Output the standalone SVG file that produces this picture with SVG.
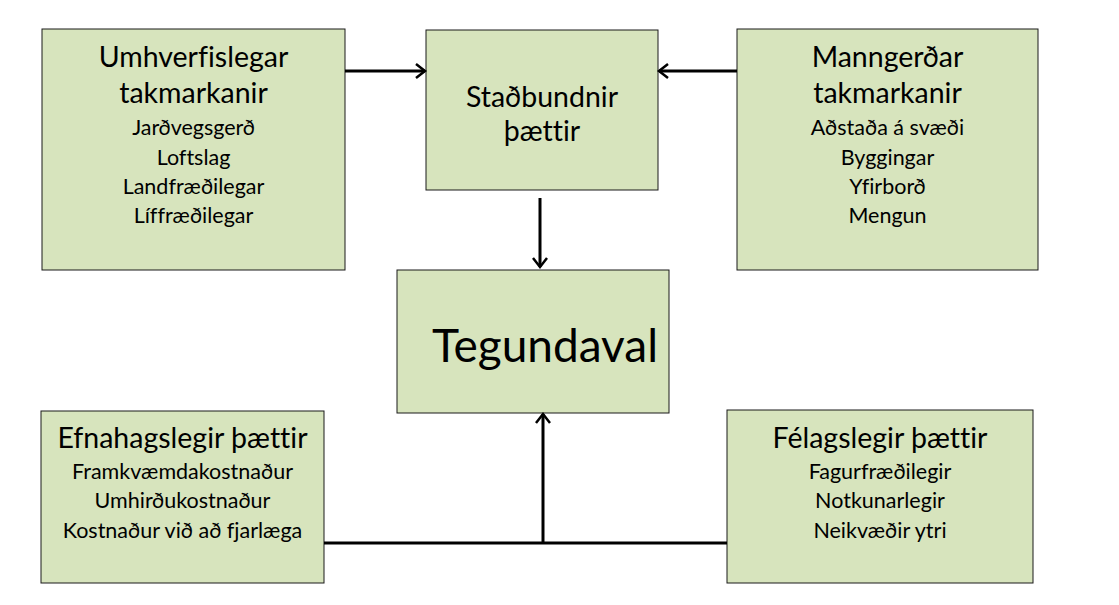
<svg xmlns="http://www.w3.org/2000/svg" width="1119" height="605" viewBox="0 0 1119 605">
<style>
.box{fill:#d7e4bd;stroke:#1a1a1a;stroke-width:1}
.t{font-family:Lato,"Open Sans","Liberation Sans",sans-serif;fill:#000;text-anchor:middle;font-variant-ligatures:none}
.h{font-size:28.5px}
.s{font-size:21.5px}
.big{font-size:46px}
.c{fill:none;stroke:#000;stroke-width:3}
</style>
<defs>
<marker id="a" markerUnits="userSpaceOnUse" markerWidth="20" markerHeight="20" refX="14" refY="10" orient="auto">
<path d="M5,3 L14,10 L5,17" fill="none" stroke="#000" stroke-width="2.5"/>
</marker>
</defs>
<rect width="1119" height="605" fill="#fff"/>
<g id="umhverfislegar">
<rect class="box" x="42" y="29" width="303" height="241"/>
<text class="t h" x="193.5" y="67">Umhverfislegar</text>
<text class="t h" x="193.5" y="103">takmarkanir</text>
<text class="t s" x="193.5" y="135">Jarðvegsgerð</text>
<text class="t s" x="193.5" y="165">Loftslag</text>
<text class="t s" x="193.5" y="194">Landfræðilegar</text>
<text class="t s" x="193.5" y="223">Líffræðilegar</text>
</g>
<g id="stadbundnir">
<rect class="box" x="426" y="30" width="232" height="160"/>
<text class="t h" x="542" y="107">Staðbundnir</text>
<text class="t h" x="542" y="141">þættir</text>
</g>
<g id="manngerdar">
<rect class="box" x="737" y="29" width="301" height="241"/>
<text class="t h" x="887.5" y="67">Manngerðar</text>
<text class="t h" x="887.5" y="103">takmarkanir</text>
<text class="t s" x="887.5" y="135">Aðstaða á svæði</text>
<text class="t s" x="887.5" y="165">Byggingar</text>
<text class="t s" x="887.5" y="194">Yfirborð</text>
<text class="t s" x="887.5" y="223">Mengun</text>
</g>
<g id="tegundaval">
<rect class="box" x="397" y="270" width="272" height="143"/>
<text class="t big" x="545" y="362">Tegundaval</text>
</g>
<g id="efnahagslegir">
<rect class="box" x="41" y="411" width="283" height="172"/>
<text class="t h" x="182.5" y="448">Efnahagslegir þættir</text>
<text class="t s" x="182.5" y="479">Framkvæmdakostnaður</text>
<text class="t s" x="182.5" y="508">Umhirðukostnaður</text>
<text class="t s" x="182.5" y="538">Kostnaður við að fjarlæga</text>
</g>
<g id="felagslegir">
<rect class="box" x="727" y="410" width="306" height="173"/>
<text class="t h" x="880" y="448">Félagslegir þættir</text>
<text class="t s" x="880" y="479">Fagurfræðilegir</text>
<text class="t s" x="880" y="508">Notkunarlegir</text>
<text class="t s" x="880" y="538">Neikvæðir ytri</text>
</g>
<g id="connectors">
<line class="c" x1="345" y1="71" x2="425" y2="71" marker-end="url(#a)"/>
<line class="c" x1="737" y1="71" x2="659" y2="71" marker-end="url(#a)"/>
<line class="c" x1="540" y1="198" x2="540" y2="267" marker-end="url(#a)"/>
<line class="c" x1="324" y1="543" x2="727" y2="543"/>
<line class="c" x1="543" y1="543" x2="543" y2="414" marker-end="url(#a)"/>
</g>
</svg>
